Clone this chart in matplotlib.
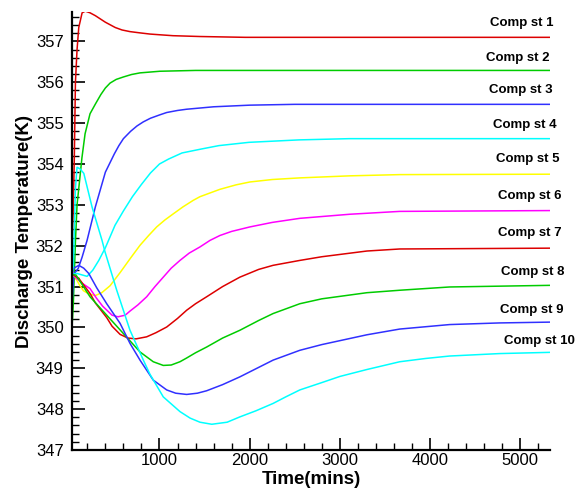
import matplotlib
matplotlib.use("Agg")
import matplotlib.pyplot as plt
from matplotlib.ticker import MultipleLocator

plt.rcParams['font.family'] = ['Liberation Sans', 'DejaVu Sans']

# ---- data ----
names = ["Comp st 1", "Comp st 2", "Comp st 3", "Comp st 4", "Comp st 5",
         "Comp st 6", "Comp st 7", "Comp st 8", "Comp st 9", "Comp st 10"]

t1 = [20, 45, 56, 68, 86, 105, 142, 178, 230, 289, 400, 510, 585, 673, 780, 895, 1020, 1150, 1449, 1950,
      3000, 5330]
st1 = [351.3, 353.0, 354.2, 356.0, 356.8, 357.34, 357.70, 357.74, 357.70, 357.63, 357.47, 357.34, 357.28,
       357.24, 357.21, 357.18, 357.16, 357.14, 357.12, 357.10, 357.10, 357.10]

t2 = [20, 45, 68, 86, 112, 140, 175, 230, 290, 350, 400, 452, 520, 600, 690, 784, 1005, 1400, 2000, 3000,
      5330]
st2 = [349.6, 350.6, 352.1, 353.0, 353.55, 354.15, 354.74, 355.23, 355.47, 355.7, 355.86, 355.98, 356.07,
       356.13, 356.19, 356.23, 356.27, 356.29, 356.29, 356.29, 356.29]

t3 = [20, 50, 100, 142, 197, 289, 400, 500, 550, 600, 680, 750, 820, 900, 1000, 1080, 1200, 1300, 1600,
      2000, 2500, 3500, 5330]
st3 = [350.2, 351.3, 351.45, 351.72, 352.13, 352.95, 353.8, 354.25, 354.45, 354.62, 354.8, 354.93, 355.03,
       355.12, 355.2, 355.26, 355.31, 355.34, 355.40, 355.44, 355.46, 355.46, 355.46]

t4 = [20, 86, 197, 260, 327, 400, 507, 600, 700, 800, 900, 1000, 1100, 1250, 1449, 1659, 1992, 2548, 3104,
      4000, 5330]
st4 = [351.3, 351.32, 351.25, 351.4, 351.64, 351.95, 352.5, 352.85, 353.2, 353.5, 353.78, 354.0, 354.12,
       354.27, 354.36, 354.45, 354.53, 354.59, 354.62, 354.62, 354.62]

t5 = [20, 60, 110, 156, 216, 289, 360, 452, 566, 680, 784, 880, 969, 1060, 1153, 1260, 1374, 1449, 1670,
      1850, 2003, 2250, 2556, 3110, 3664, 5330]
st5 = [351.3, 351.25, 351.05, 350.9, 350.82, 350.78, 350.85, 351.02, 351.35, 351.7, 352.01, 352.25, 352.46,
       352.63, 352.78, 352.95, 353.11, 353.2, 353.38, 353.49, 353.56, 353.62, 353.66, 353.71, 353.74, 353.75]

t6 = [20, 60, 130, 230, 300, 370, 474, 540, 620, 673, 760, 858, 950, 1042, 1130, 1227, 1330, 1449, 1560,
      1670, 1800, 2003, 2250, 2556, 3110, 3664, 5330]
st6 = [351.3, 351.25, 351.1, 350.95, 350.72, 350.52, 350.3, 350.26, 350.3, 350.4, 350.55, 350.75, 351.0,
       351.23, 351.45, 351.64, 351.82, 351.97, 352.13, 352.25, 352.35, 352.46, 352.57, 352.67, 352.77,
       352.84, 352.86]

t7 = [20, 50, 105, 230, 289, 415, 474, 563, 650, 740, 858, 960, 1080, 1200, 1301, 1400, 1523, 1700, 1891,
      2100, 2260, 2556, 2800, 3300, 3664, 5330]
st7 = [351.3, 351.28, 351.2, 350.83, 350.6, 350.24, 350.03, 349.83, 349.74, 349.72, 349.77, 349.87, 350.01,
       350.22, 350.42, 350.58, 350.75, 351.0, 351.23, 351.42, 351.52, 351.64, 351.73, 351.87, 351.92,
       351.94]

t8 = [20, 75, 230, 415, 600, 784, 931, 1042, 1130, 1227, 1300, 1400, 1523, 1700, 1891, 2100, 2260, 2556,
      2800, 3300, 3664, 4217, 5330]
st8 = [351.3, 351.28, 350.75, 350.3, 349.85, 349.4, 349.16, 349.07, 349.08, 349.16, 349.25, 349.38,
       349.52, 349.74, 349.93, 350.17, 350.34, 350.58, 350.7, 350.85, 350.91, 350.99, 351.03]

t9 = [20, 50, 105, 160, 216, 304, 415, 563, 673, 784, 931, 1080, 1180, 1301, 1420, 1523, 1700, 1891, 2080,
      2260, 2556, 2800, 3300, 3664, 4217, 4770, 5330]
st9 = [351.2, 351.45, 351.52, 351.45, 351.32, 350.97, 350.58, 350.10, 349.61, 349.20, 348.71, 348.47,
       348.39, 348.36, 348.39, 348.45, 348.6, 348.79, 349.0, 349.20, 349.44, 349.58, 349.82, 349.96,
       350.07, 350.11, 350.13]

t10 = [20, 45, 68, 86, 120, 161, 252, 363, 396, 526, 673, 821, 895, 1042, 1227, 1340, 1449, 1580, 1750,
       1891, 2070, 2260, 2400, 2556, 2800, 3000, 3300, 3664, 3950, 4217, 4770, 5330]
st10 = [351.2, 351.5, 353.4, 353.92, 353.88, 353.77, 352.95, 352.13, 351.85, 350.91, 349.93, 349.20,
        348.85, 348.30, 347.94, 347.78, 347.68, 347.63, 347.68, 347.81, 347.96, 348.14, 348.3, 348.47,
        348.65, 348.8, 348.97, 349.16, 349.24, 349.30, 349.36, 349.39]

times = [t1, t2, t3, t4, t5, t6, t7, t8, t9, t10]
temps = [st1, st2, st3, st4, st5, st6, st7, st8, st9, st10]

colors = ['#dd0000', '#00cc00', '#3030ff', '#00ffff', '#ffff00',
          '#ff00ff', '#dd0000', '#00cc00', '#3030ff', '#00ffff']
label_dx = [3, 0, 3, 7, 9, 11, 12, 14, 13, 25]   # pixel offsets of label right edges
label_dy = [14, 12, 14, 14, 15, 15, 15, 13, 12, 11]

fig = plt.figure(figsize=(5.85, 4.91), dpi=100)
ax = fig.add_axes([72 / 585, 1 - 450 / 491, (550 - 72) / 585, (450 - 12) / 491])

for tt, vv, c in zip(times, temps, colors):
    ax.plot(tt, vv, color=c, lw=1.1, solid_joinstyle='round')

for name, tt, vv, dx, dy in zip(names, times, temps, label_dx, label_dy):
    ax.annotate(name, xy=(tt[-1], vv[-1]), xytext=(dx, dy), textcoords='offset pixels',
                ha='right', va='center', fontsize=9.5, fontweight='bold', annotation_clip=False)

ax.set_xlim(30, 5330)
ax.set_ylim(347, 357.72)
ax.xaxis.set_major_locator(MultipleLocator(1000))
ax.xaxis.set_minor_locator(MultipleLocator(200))
ax.yaxis.set_major_locator(MultipleLocator(1))
ax.yaxis.set_minor_locator(MultipleLocator(0.2))
ax.set_xticks([1000, 2000, 3000, 4000, 5000])

for s in ['top', 'right']:
    ax.spines[s].set_visible(False)
for s in ['left', 'bottom']:
    ax.spines[s].set_linewidth(1.6)

ax.tick_params(which='major', direction='in', length=9, width=1.2, labelsize=12)
ax.tick_params(axis='x', which='major', pad=2)
ax.tick_params(axis='y', which='major', pad=6)
ax.tick_params(which='minor', direction='in', length=5, width=1.0)

ax.set_xlabel('Time(mins)', fontsize=13.5, fontweight='bold', labelpad=2)
ax.set_ylabel('Discharge Temperature(K)', fontsize=13.5, fontweight='bold', labelpad=2)

fig.savefig('out.png', dpi=100)
